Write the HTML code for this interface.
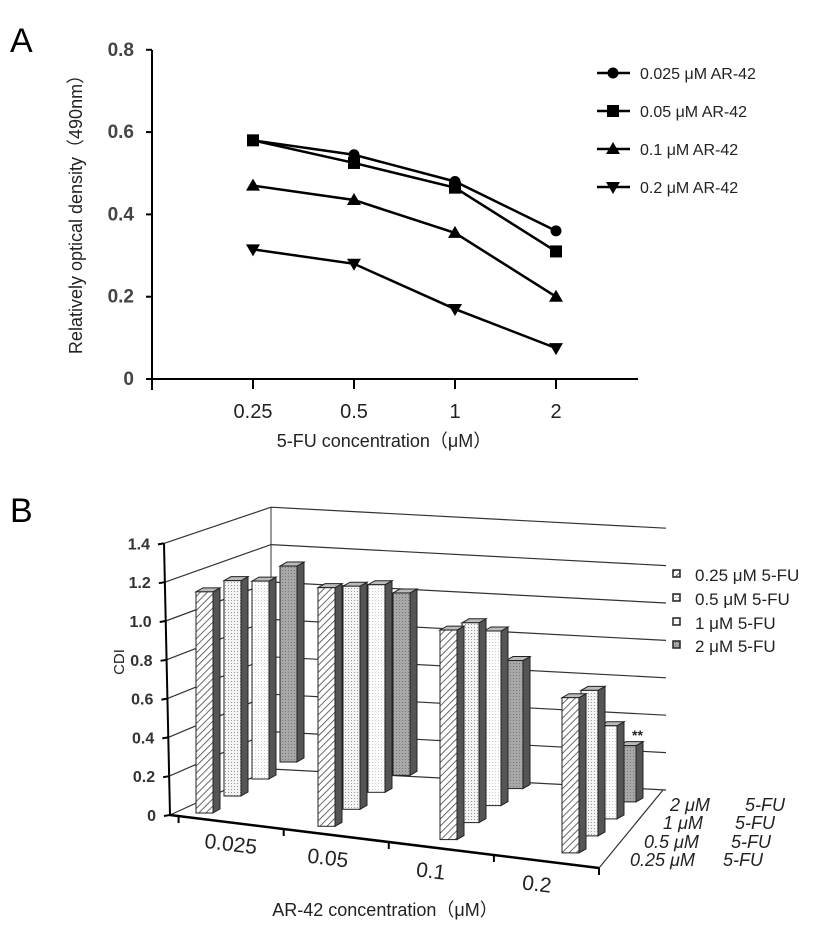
<!DOCTYPE html>
<html><head><meta charset="utf-8"><style>
html,body{margin:0;padding:0;background:#fff;}
svg{display:block;font-family:"Liberation Sans",sans-serif;}
</style></head><body>
<svg id="fig" width="839" height="949" viewBox="0 0 839 949">
<defs>
<pattern id="hatch" width="5" height="5" patternUnits="userSpaceOnUse" patternTransform="rotate(45)">
<rect width="5" height="5" fill="#fff"/><line x1="0" y1="0" x2="0" y2="5" stroke="#444" stroke-width="1.6"/></pattern>
<pattern id="dots1" width="3" height="3" patternUnits="userSpaceOnUse"><rect width="3" height="3" fill="#f4f4f4"/><rect width="1" height="1" fill="#999"/></pattern>
<pattern id="dots2" width="3" height="3" patternUnits="userSpaceOnUse"><rect width="3" height="3" fill="#fcfcfc"/><rect width="1" height="1" fill="#ccc"/></pattern>
<pattern id="dots3" width="3" height="3" patternUnits="userSpaceOnUse"><rect width="3" height="3" fill="#a8a8a8"/><rect width="1" height="1" fill="#777"/></pattern>
</defs>
<text x="10" y="52" font-size="34">A</text>
<text x="10" y="522" font-size="34">B</text>
<g id="pa"></g>
<g id="pb"></g>
</svg>
<script>
// ---------- Panel A data ----------
const aCategories = ["0.25","0.5","1","2"];
const aSeriesNames = ["0.025 μM AR-42","0.05 μM AR-42","0.1 μM AR-42","0.2 μM AR-42"];
const aS1 = [0.58,0.545,0.48,0.36];
const aS2 = [0.58,0.525,0.465,0.31];
const aS3 = [0.47,0.435,0.355,0.2];
const aS4 = [0.315,0.28,0.17,0.075];
const aYTicks = [0,0.2,0.4,0.6,0.8];
const aYTickLabels = ["0","0.2","0.4","0.6","0.8"];
// ---------- Panel B data ----------
const bCategories = ["0.025","0.05","0.1","0.2"];
const bSeriesNames = ["0.25 μM 5-FU","0.5 μM 5-FU","1 μM 5-FU","2 μM 5-FU"];
const bS1 = [1.14,1.23,1.08,0.80];
const bS2 = [1.11,1.15,1.03,0.75];
const bS3 = [1.02,1.07,0.90,0.48];
const bS4 = [1.01,0.94,0.66,0.29];
const bYTicks = [0,0.2,0.4,0.6,0.8,1.0,1.2,1.4];
const bYTickLabels = ["0","0.2","0.4","0.6","0.8","1.0","1.2","1.4"];

const NS="http://www.w3.org/2000/svg";
function mk(parent,tag,attrs,text){const e=document.createElementNS(NS,tag);for(const k in attrs)e.setAttribute(k,attrs[k]);if(text!==undefined)e.textContent=text;parent.appendChild(e);return e;}

// ===== Panel A =====
const pa=document.getElementById('pa');
const ax=i=>253+i*101;
const ay=v=>379-v*411.5;
let e;
e=mk(pa,'line',{x1:152,y1:50,x2:152,y2:390,stroke:'#000','stroke-width':2});


e=mk(pa,'line',{x1:152,y1:379,x2:638,y2:379,stroke:'#000','stroke-width':2});


aYTicks.forEach((v,i)=>{
 mk(pa,'line',{x1:146,y1:ay(v),x2:152,y2:ay(v),stroke:'#000','stroke-width':2});
 e=mk(pa,'text',{x:134,y:ay(v)+6,'font-size':19,'text-anchor':'end',fill:'#444','font-weight':'bold'},aYTickLabels[i]);
 
 
});
aCategories.forEach((c,i)=>{
 mk(pa,'line',{x1:ax(i),y1:379,x2:ax(i),y2:389,stroke:'#000','stroke-width':2});
 e=mk(pa,'text',{x:ax(i),y:418,'font-size':20,'text-anchor':'middle',fill:'#222'},c);
 
 
});
e=mk(pa,'text',{x:384,y:447,'font-size':18,'text-anchor':'middle',fill:'#222'},'5-FU concentration（μM）');


e=mk(pa,'text',{x:0,y:0,'font-size':18,'text-anchor':'middle',fill:'#222',transform:'translate(82,210) rotate(-90)'},'Relatively optical density（490nm）');


function marker(g,kind,x,y){
 if(kind===0) return mk(g,'circle',{cx:x,cy:y,r:5.5,fill:'#000'});
 if(kind===1) return mk(g,'rect',{x:x-6,y:y-6,width:12,height:12,fill:'#000'});
 if(kind===2) return mk(g,'polygon',{points:`${x},${y-7} ${x-7},${y+5} ${x+7},${y+5}`,fill:'#000'});
 return mk(g,'polygon',{points:`${x},${y+7} ${x-7},${y-5} ${x+7},${y-5}`,fill:'#000'});
}
[aS1,aS2,aS3,aS4].forEach((arr,k)=>{
 const g=mk(pa,'g',{});
 
 
 const pts=arr.map((v,i)=>ax(i)+','+ay(v)).join(' ');
 mk(g,'polyline',{points:pts,fill:'none',stroke:'#000','stroke-width':2.5});
 arr.forEach((v,i)=>{const m=marker(g,k,ax(i),ay(v));
  
  });
 const ly=73+k*38;
 const lg=mk(pa,'g',{});
 
 
 mk(lg,'line',{x1:597,y1:ly,x2:630,y2:ly,stroke:'#000','stroke-width':2.5});
 marker(lg,k,613,ly);
 mk(lg,'text',{x:640,y:ly+6,'font-size':16,fill:'#222'},aSeriesNames[k]);
});

// ===== Panel B =====
const pb=document.getElementById('pb');
const fy=v=>815-v*194, by=v=>769-v*187, ry=v=>790-v*187;
bYTicks.forEach((v,i)=>{
 const fx=170-v*4.3;
 e=mk(pb,'polyline',{points:`${fx},${fy(v)} 271,${by(v)} 666,${ry(v)}`,fill:'none',stroke:'#333','stroke-width':1.2});
 
 
 mk(pb,'line',{x1:fx-6,y1:fy(v)+1,x2:fx,y2:fy(v),stroke:'#000','stroke-width':2});
 e=mk(pb,'text',{x:fx-14,y:fy(v)+6,'font-size':16,'text-anchor':'end',fill:'#333','font-weight':'bold'},bYTickLabels[i]);
 
 
});
mk(pb,'line',{x1:271,y1:by(1.4),x2:271,y2:by(0),stroke:'#333','stroke-width':1});
e=mk(pb,'line',{x1:164,y1:fy(1.4),x2:170,y2:fy(0),stroke:'#000','stroke-width':2});


mk(pb,'polyline',{points:`170,815 599,868 663,790`,fill:'none',stroke:'#333','stroke-width':1.2});
e=mk(pb,'line',{x1:170,y1:815,x2:599,y2:868,stroke:'#000','stroke-width':2.5});


for(let i=0;i<=4;i++){const t=i/4*0.98+0.02;mk(pb,'line',{x1:170+t*429,y1:815+t*53,x2:170+t*429,y2:822+t*53,stroke:'#000','stroke-width':2});}
const bFills=['url(#hatch)','url(#dots1)','url(#dots2)','url(#dots3)'];
const BW=17, SD=7, SU=4;
function bar(g,s,v){
 const x=196+g*122+s*(28-3*g), yb=813+g*13.3-s*17, yt=yb-v*194;
 const grp=mk(pb,'g',{});
 
 
 mk(grp,'polygon',{points:`${x+BW},${yb} ${x+BW+SD},${yb-SU} ${x+BW+SD},${yt-SU} ${x+BW},${yt}`,fill:'#555',stroke:'#222','stroke-width':1});
 mk(grp,'polygon',{points:`${x},${yt} ${x+SD},${yt-SU} ${x+BW+SD},${yt-SU} ${x+BW},${yt}`,fill:'#bbb',stroke:'#222','stroke-width':1});
 mk(grp,'rect',{x:x,y:yt,width:BW,height:yb-yt,fill:bFills[s],stroke:'#222','stroke-width':1});
}
const bAll=[bS1,bS2,bS3,bS4];
for(let g=0;g<4;g++) for(let s=3;s>=0;s--) bar(g,s,bAll[s][g]);
e=mk(pb,'text',{x:632,y:740,'font-size':14,fill:'#222','font-weight':'bold'},'**');


const catPos=[[230,851],[327,865],[430,878],[536,891]];
bCategories.forEach((c,i)=>{
 e=mk(pb,'text',{x:0,y:0,'font-size':21,'text-anchor':'middle',fill:'#222',transform:`translate(${catPos[i][0]},${catPos[i][1]}) rotate(7)`},c);
 
 
});
e=mk(pb,'text',{x:385,y:916,'font-size':18,'text-anchor':'middle',fill:'#222'},'AR-42  concentration（μM）');


e=mk(pb,'text',{x:0,y:0,'font-size':15,'text-anchor':'middle',fill:'#222',transform:'translate(124,662) rotate(-90)'},'CDI');


const dl=[[670,811,'2 μM','5-FU',745],[663,829,'1 μM','5-FU',735],[644,848,'0.5 μM','5-FU',731],[630,866,'0.25 μM','5-FU',723]];
dl.forEach(d=>{
 e=mk(pb,'text',{x:d[0],y:d[1],'font-size':18,'font-style':'italic',fill:'#222'},d[2]);
 
 
 mk(pb,'text',{x:d[4],y:d[1],'font-size':18,'font-style':'italic',fill:'#222'},d[3]);
});
bSeriesNames.forEach((n,k)=>{
 const ly=[574,598,622,645][k];
 const lg=mk(pb,'g',{});
 
 
 mk(lg,'rect',{x:673,y:ly-4,width:7,height:7,fill:bFills[k],stroke:'#222','stroke-width':1.5});
 mk(lg,'text',{x:695,y:ly+7,'font-size':17,fill:'#222'},n);
});
</script>
</body></html>
